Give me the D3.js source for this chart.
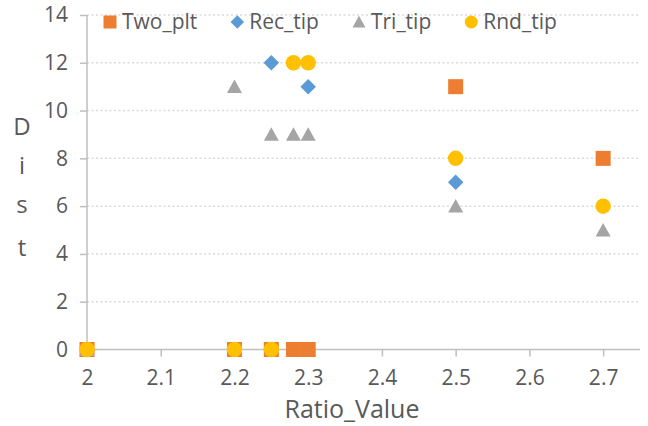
<!DOCTYPE html>
<html><head><meta charset="utf-8">
<script src="https://cdn.jsdelivr.net/npm/d3@7"></script>
<style>body{margin:0;background:#fff}svg{display:block}text{font-family:"Open Sans",sans-serif;fill:#595959}</style>
</head><body><svg id="c" width="648" height="426"></svg>
<script>
const seriesNames = ["Two_plt", "Rec_tip", "Tri_tip", "Rnd_tip"];
const xTicks = [2, 2.1, 2.2, 2.3, 2.4, 2.5, 2.6, 2.7];
const yTicks = [0, 2, 4, 6, 8, 10, 12, 14];
const twoPlt = [[2,0],[2.2,0],[2.25,0],[2.28,0],[2.3,0],[2.5,11],[2.7,8]];
const recTip = [[2,0],[2.2,0],[2.25,12],[2.28,12],[2.3,11],[2.5,7]];
const triTip = [[2,0],[2.2,11],[2.25,9],[2.28,9],[2.3,9],[2.5,6],[2.7,5]];
const rndTip = [[2,0],[2.2,0],[2.25,0],[2.28,12],[2.3,12],[2.5,8],[2.7,6]];
const colors = ["#ED7D31","#5B9BD5","#A5A5A5","#FFC000"];

function shapePath(i, s) {
  const h = s/2;
  if (i === 0) return `M${-h},${-h}H${h}V${h}H${-h}Z`;
  if (i === 1) return `M0,${-h}L${h},0L0,${h}L${-h},0Z`;
  if (i === 2) return `M0,${-h*0.95}L${h},${h*0.85}L${-h},${h*0.85}Z`;
  return d3.arc()({innerRadius:0, outerRadius:h, startAngle:0, endAngle:2*Math.PI});
}
const markSize = [15, 15.5, 15, 15.5];
const legSize = [13, 13.5, 13, 13];

const svg = d3.select("#c");
const L = 87, R = 640, T = 15, B = 349.5;
const x = d3.scaleLinear().domain([2, 2.75]).range([L, R]);
const y = d3.scaleLinear().domain([0, 14]).range([B, T]);

svg.append("g").selectAll("line").data(yTicks.filter(d=>d>0)).join("line")
  .attr("x1", L).attr("x2", R).attr("y1", d=>y(d)).attr("y2", d=>y(d))
  .attr("stroke","#D9D9D9").attr("stroke-width",1.5).attr("stroke-dasharray","2,2.5");

const yAx = svg.append("g").attr("transform",`translate(${L},0)`)
  .call(d3.axisLeft(y).tickValues(yTicks).tickSize(7).tickPadding(12).tickFormat(d3.format("d")));
yAx.select(".domain").remove();
yAx.append("line").attr("x1",0).attr("x2",0).attr("y1",T).attr("y2",B).attr("stroke","#BFBFBF").attr("stroke-width",1.5);
yAx.selectAll(".tick line").attr("stroke","#BFBFBF").attr("stroke-width",1.5);
yAx.selectAll(".tick text").attr("font-size",21).style("fill","#595959");

const xAx = svg.append("g").attr("transform",`translate(0,${B})`)
  .call(d3.axisBottom(x).tickValues(xTicks).tickSize(7).tickPadding(14).tickFormat(d=>d3.format("")(+d.toFixed(1))));
xAx.select(".domain").remove();
xAx.append("line").attr("x1",L).attr("x2",R).attr("y1",0).attr("y2",0).attr("stroke","#BFBFBF").attr("stroke-width",1.5);
xAx.selectAll(".tick line").attr("stroke","#BFBFBF").attr("stroke-width",1.5);
xAx.selectAll(".tick text").attr("font-size",21).style("fill","#595959");

svg.append("text").attr("x",352).attr("y",418).attr("text-anchor","middle").attr("font-size",25).text("Ratio_Value");
const yl = ["D","i","s","t"];
const ylY = [135, 174, 213, 256];
svg.append("g").selectAll("text").data(yl).join("text").attr("x",22).attr("y",(d,i)=>ylY[i])
  .attr("text-anchor","middle").attr("font-size",24).text(d=>d);

const all = [twoPlt, recTip, triTip, rndTip];
all.forEach((data, i) => {
  svg.append("g").selectAll("path").data(data).join("path")
    .attr("transform", d=>`translate(${x(d[0])},${y(d[1])})`)
    .attr("d", shapePath(i, markSize[i]))
    .attr("fill", colors[i]);
});

const lg = svg.append("g");
let cx = 110;
seriesNames.forEach((n, i) => {
  lg.append("path").attr("transform",`translate(${cx},22)`)
    .attr("d", shapePath(i, legSize[i])).attr("fill", colors[i]);
  const t = lg.append("text").attr("x", cx+12).attr("y", 22).attr("dy","0.35em").attr("font-size",21).text(n);
  const w = t.node().getComputedTextLength();
  cx = cx + 12 + w + 40;
});
</script></body></html>
